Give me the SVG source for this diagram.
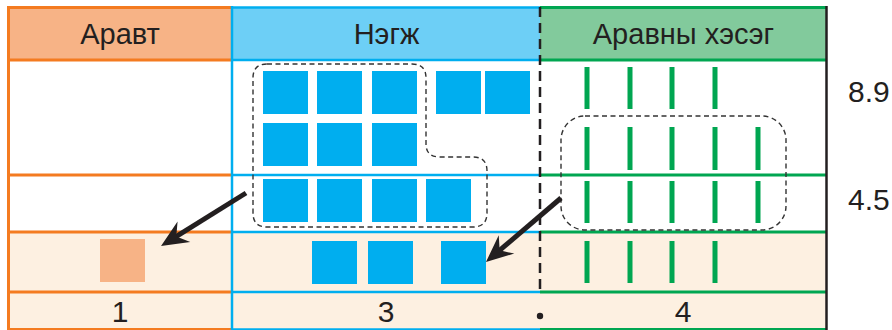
<svg xmlns="http://www.w3.org/2000/svg" width="892" height="330" viewBox="0 0 892 330">
<style>
  text { font-family: "Liberation Sans", Arial, sans-serif; fill: #231F20; }
  .hdr { font-size: 29px; text-anchor: middle; }
  .num { font-size: 30px; text-anchor: middle; }
  .side { font-size: 30px; }
  .ol { stroke: #F47B20; stroke-width: 3; fill: none; }
  .bl { stroke: #00AEEF; stroke-width: 2.5; fill: none; }
  .gl { stroke: #00A651; stroke-width: 3; fill: none; }
  .sq { fill: #00AEEF; }
  .bar { fill: #00A651; }
  .grp { fill: none; stroke: #333; stroke-width: 1.4; stroke-dasharray: 5 3.5; }
  .arrow { stroke: #231F20; stroke-width: 5; fill: none; marker-end: url(#ah); }
</style>
<defs>
  <marker id="ah" viewBox="-28 -13 30 26" markerWidth="30" markerHeight="26" refX="-12" refY="0" orient="auto" markerUnits="userSpaceOnUse">
    <path d="M0 0 L-27 -12 L-18 0 L-27 12 Z" fill="#231F20"/>
  </marker>
</defs>
<rect width="892" height="330" fill="#fff"/>

<g id="table">
  <rect x="8" y="7" width="224" height="53" fill="#F7B386"/>
  <rect x="232" y="7" width="308" height="53" fill="#6DCFF6"/>
  <rect x="540" y="7" width="286" height="53" fill="#82CA9C"/>
  <rect x="8" y="232" width="818" height="98" fill="#FDF0E1"/>
  <path class="ol" d="M8 7.5 H232 M8 60 H232 M8 175 H232 M8 232 H232 M8 292 H232 M8 329.5 H232 M8.5 6 V330"/>
  <path class="bl" d="M232 7.5 H540 M232 60 H540 M232 175 H540 M232 232 H540 M232 292 H540 M232 329.5 H540 M232 6 V330"/>
  <path class="gl" d="M540 7.5 H826 M540 60 H826 M540 175 H826 M540 232 H826 M540 292 H826 M540 329.5 H826"/>
  <line x1="826.5" y1="6" x2="826.5" y2="330" stroke="#231F20" stroke-width="2.5"/>
  <line x1="540" y1="7" x2="540" y2="292" stroke="#231F20" stroke-width="2.5" stroke-dasharray="10 6"/>
</g>

<g id="headers">
  <text class="hdr" x="120" y="44">Аравт</text>
  <text class="hdr" x="386.5" y="44">Нэгж</text>
  <text class="hdr" x="683.5" y="44">Аравны хэсэг</text>
</g>

<g id="units">
  <rect class="sq" x="263" y="71" width="45" height="43"/>
  <rect class="sq" x="317" y="71" width="45" height="43"/>
  <rect class="sq" x="372" y="71" width="45" height="43"/>
  <rect class="sq" x="436" y="71" width="45" height="43"/>
  <rect class="sq" x="485" y="71" width="45" height="43"/>
  <rect class="sq" x="263" y="123" width="45" height="43"/>
  <rect class="sq" x="317" y="123" width="45" height="43"/>
  <rect class="sq" x="372" y="123" width="45" height="43"/>
  <rect class="sq" x="263" y="179" width="45" height="43"/>
  <rect class="sq" x="317" y="179" width="45" height="43"/>
  <rect class="sq" x="372" y="179" width="45" height="43"/>
  <rect class="sq" x="426" y="179" width="45" height="43"/>
  <path class="grp" d="M267 64 H412 Q426 64 426 78 V144 Q426 157 440 157 H473 Q487 157 487 171 V213 Q487 227 473 227 H267 Q253 227 253 213 V78 Q253 64 267 64 Z"/>
</g>

<g id="units-result">
  <rect class="sq" x="312" y="241" width="45" height="43"/>
  <rect class="sq" x="368" y="241" width="45" height="43"/>
  <rect class="sq" x="441" y="241" width="45" height="43"/>
</g>

<g id="tens-result">
  <rect x="100" y="239" width="45" height="43" fill="#F7B386"/>
</g>

<g id="tenths">
  <rect class="bar" x="584.5" y="67" width="5" height="42"/>
  <rect class="bar" x="627.5" y="67" width="5" height="42"/>
  <rect class="bar" x="669.5" y="67" width="5" height="42"/>
  <rect class="bar" x="712.5" y="67" width="5" height="42"/>
  <rect class="bar" x="584.5" y="127" width="5" height="43"/>
  <rect class="bar" x="627.5" y="127" width="5" height="43"/>
  <rect class="bar" x="669.5" y="127" width="5" height="43"/>
  <rect class="bar" x="712.5" y="127" width="5" height="43"/>
  <rect class="bar" x="755.5" y="127" width="5" height="43"/>
  <rect class="bar" x="584.5" y="181" width="5" height="42"/>
  <rect class="bar" x="627.5" y="181" width="5" height="42"/>
  <rect class="bar" x="669.5" y="181" width="5" height="42"/>
  <rect class="bar" x="712.5" y="181" width="5" height="42"/>
  <rect class="bar" x="755.5" y="181" width="5" height="42"/>
  <path class="grp" d="M585 116 H762 A24 24 0 0 1 786 140 V206 A24 24 0 0 1 762 230 H585 A24 24 0 0 1 561 206 V140 A24 24 0 0 1 585 116 Z"/>
</g>

<g id="tenths-result">
  <rect class="bar" x="584.5" y="241" width="5" height="42"/>
  <rect class="bar" x="627.5" y="241" width="5" height="42"/>
  <rect class="bar" x="669.5" y="241" width="5" height="42"/>
  <rect class="bar" x="712.5" y="241" width="5" height="42"/>
</g>

<g id="connectors">
  <line class="arrow" x1="246" y1="193" x2="171.2" y2="239.7"/>
  <line class="arrow" x1="561" y1="198" x2="495.1" y2="254.2"/>
</g>

<g id="labels">
  <text class="side" x="848" y="102">8.9</text>
  <text class="side" x="848" y="210">4.5</text>
  <text class="num" x="120" y="322">1</text>
  <text class="num" x="386" y="322">3</text>
  <text class="num" x="683" y="322">4</text>
  <circle cx="540" cy="316" r="3.2" fill="#231F20"/>
</g>
</svg>
